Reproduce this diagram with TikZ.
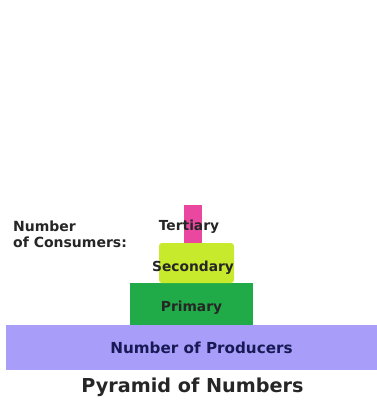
\documentclass[tikz,border=0pt]{standalone}
\usepackage{fontspec}
\setmainfont{DejaVu Sans}
\usetikzlibrary{positioning}

\definecolor{prodblue}{RGB}{168,158,250}
\definecolor{prodtext}{RGB}{25,25,85}
\definecolor{primgreen}{RGB}{32,170,72}
\definecolor{secyellow}{RGB}{200,234,44}
\definecolor{terpink}{RGB}{234,72,160}

\begin{document}
\begin{tikzpicture}[x=1pt, y=-1pt,
    bar/.style = {inner sep=0pt, outer sep=0pt},
    lbl/.style = {inner sep=0pt, font=\bfseries\fontsize{13.8}{16}\selectfont, text=black!85}]

    \useasboundingbox (0,0) rectangle (377,408);

    % the levels, from the bottom up
    \node (P) at (191.5,347.5) [bar, fill=prodblue, minimum width=371pt, minimum height=45pt] {};
    \node (Pr) [bar, fill=primgreen, minimum width=123pt, minimum height=42pt, above=0pt of P] {};
    \node (S)  [bar, fill=secyellow, rounded corners=3pt, minimum width=75pt, minimum height=40pt, above=0pt of Pr, xshift=5pt] {};
    \node (T)  [bar, fill=terpink, minimum width=18pt, minimum height=38pt, above=0pt of S, xshift=-4pt] {};

    % labels
    \node (Plbl)  at ([xshift=10pt]P.center) [lbl, text=prodtext, font=\bfseries\fontsize{15.2}{18}\selectfont] {Number of Producers};
    \node (Prlbl) at ([yshift=-4pt]Pr.center) [lbl] {Primary};
    \node (Slbl)  at ([xshift=-3.5pt, yshift=-5pt]S.center) [lbl] {Secondary};
    \node (Tlbl)  at ([xshift=-3.5pt, yshift=-3pt]T.center) [lbl] {Tertiary};

    \node (C) at (13,234.5) [lbl, anchor=west, align=left, font=\bfseries\fontsize{14}{16}\selectfont] {Number\\of Consumers:};

    \node (title) at (192.5,387) [lbl, font=\bfseries\fontsize{19.2}{22}\selectfont] {Pyramid of Numbers};

\end{tikzpicture}
\end{document}
